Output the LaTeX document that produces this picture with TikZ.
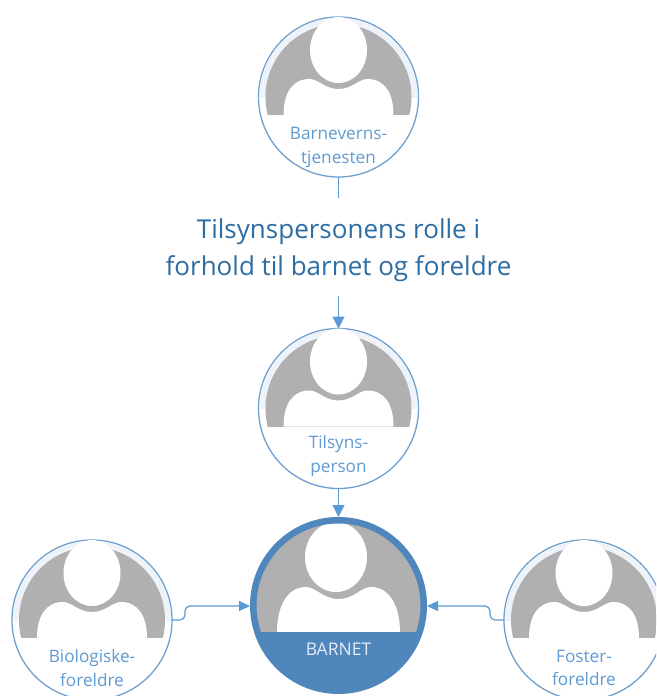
\documentclass[tikz,border=0pt]{standalone}
\usepackage{fontspec}
\setmainfont{Open Sans}
\usetikzlibrary{arrows.meta}
\definecolor{ring}{HTML}{6FA0CF}
\definecolor{bigblue}{HTML}{4F87BC}
\definecolor{conn}{HTML}{5B9BD5}
\definecolor{labelc}{HTML}{5F9BD2}
\definecolor{titlec}{HTML}{2E6DA4}
\definecolor{glyph}{HTML}{B0B0B0}
\definecolor{pale}{HTML}{EEF3FA}
\tikzset{
  x=1pt,y=1pt,
  personring/.style={circle,draw=ring,line width=1.3pt,fill=white,minimum size=160pt,inner sep=0pt,outer sep=0pt},
  bigring/.style={circle,draw=bigblue,line width=6.5pt,minimum size=170.5pt,inner sep=0pt,outer sep=3.25pt},
  personlabel/.style={text=labelc,font=\fontsize{17.2}{23.5}\selectfont,align=center,inner sep=0pt},
  titletext/.style={text=titlec,font=\fontsize{26}{36.5}\selectfont,align=center,inner sep=0pt},
  biglabel/.style={text=white!85!bigblue,font=\fontsize{17.5}{20}\selectfont,inner sep=0pt},
  link/.style={draw=conn,line width=1.2pt},
  linkarrow/.style={link,-{Triangle[length=12pt,width=12pt]}},
  steplink/.style={link,-{Triangle[length=11pt,width=10pt]},rounded corners=5pt},
}
% #1 centre name
\newcommand{\persongray}[1]{%
  \begin{scope}[shift={(#1)}]
    \begin{scope}
      \clip (-90,-90) rectangle (90,0);
      \fill[pale] (0,0) circle[radius=79];
    \end{scope}
    \begin{scope}
      \clip (0,0) circle[radius=73];
      \fill[glyph] (-90,18) rectangle (90,-90);
      \fill[white] (-55,18) .. controls (-55,-4) and (-46,-18) .. (-29,-18)
        .. controls (-20,-18) and (-14,-8) .. (0,-8)
        .. controls (14,-8) and (20,-18) .. (29,-18)
        .. controls (46,-18) and (55,-4) .. (55,18) -- cycle;
    \end{scope}
    \fill[white] (0,-47) ellipse[x radius=28.5,y radius=33];
  \end{scope}}
\begin{document}
\begin{tikzpicture}[y=-1pt]
\path[use as bounding box,clip] (0,0) rectangle (656,696);
\fill[white] (0,0) rectangle (656,696);

\node[personring] (top) at (338.5,97) {};
\node[personring] (tilsyn) at (338.5,408.5) {};
\node[personring] (bio) at (92,620) {};
\node[personring] (foster) at (584,620) {};

\persongray{top}
\persongray{tilsyn}
\persongray{bio}
\persongray{foster}

\begin{scope}
  \clip (338.5,605.5) circle[radius=85.5];
  \fill[white] (250,510) rectangle (430,700);
  \fill[glyph] (250,510) rectangle (430,632);
  \fill[white] (277,632) .. controls (277,607) and (287,587) .. (306,587)
    .. controls (316,587) and (323,599) .. (338.5,599)
    .. controls (354,599) and (361,587) .. (371,587)
    .. controls (390,587) and (400,607) .. (400,632) -- cycle;
  \fill[white] (336,557) ellipse[x radius=31,y radius=35];
  \fill[bigblue] (250,632) rectangle (430,700);
\end{scope}
\node[bigring] (barnet) at (338.5,605.5) {};

\node[personlabel] (toplabel) at (338.5,147.5) {Barnevern\-s-\\tjenesten};
\node[personlabel] (tilsynlabel) at (338.5,456) {Tilsyns-\\person};
\node[personlabel] (biolabel) at (92,668) {Biologiske-\\foreldre};
\node[personlabel] (fosterlabel) at (584,668) {Foster-\\foreldre};
\node[biglabel] (barnetlabel) at (338.5,649) {BARNET};
\node[titletext] (title) at (338.5,250) {Tilsynspersonens rolle i\\forhold til barnet og foreldre};

\coordinate (topend) at (338.5,198);
\coordinate (titleend) at (338.5,296);
\draw[link] (top.south) -- (topend);
\draw[linkarrow] (titleend) -- (tilsyn.north);
\draw[linkarrow] (tilsyn.south) -- (barnet.north);
\draw[steplink] (bio.east) -- ++(13,0) -- ++(0,-14) -- (barnet.west |- 0,606);
\draw[steplink] (foster.west) -- ++(-14,0) -- ++(0,-14) -- (barnet.east |- 0,606);
\end{tikzpicture}
\end{document}
